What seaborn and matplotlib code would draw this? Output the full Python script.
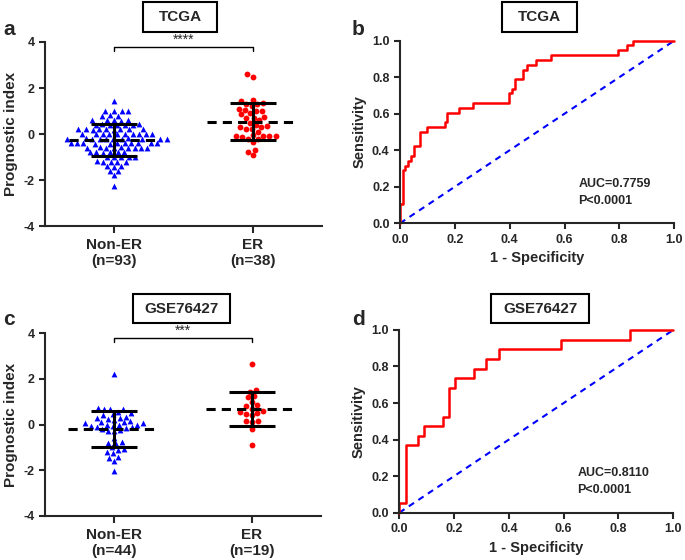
import numpy as np
import pandas as pd
import matplotlib
matplotlib.use("Agg")
import matplotlib.pyplot as plt
from matplotlib.patches import Rectangle
import seaborn as sns

# prognostic index values, TCGA cohort
tcga_non_er = [1.42,
               1.02, 1.0, 0.98, 1.0,
               0.82, 0.8, 0.78,
               0.62, 0.6, 0.6, 0.58, 0.6,
               0.42, 0.4, 0.4, 0.38, 0.4, 0.42, 0.4,
               0.22, 0.2, 0.2, 0.18, 0.2, 0.22, 0.2, 0.18, 0.2,
               0.02, 0.0, 0.0, -0.02, 0.0, 0.02, 0.0, -0.02, 0.0, 0.0,
               -0.18, -0.2, -0.2, -0.22, -0.2, -0.18, -0.2, -0.22, -0.2, -0.2, -0.2,
               -0.38, -0.4, -0.4, -0.42, -0.4, -0.38, -0.4, -0.42, -0.4, -0.4, -0.4,
               -0.58, -0.6, -0.6, -0.62, -0.6, -0.58, -0.6, -0.62, -0.6,
               -0.78, -0.8, -0.8, -0.82, -0.8, -0.8,
               -1.0, -1.0, -0.98, -1.02, -1.0,
               -1.2, -1.18, -1.22, -1.2, -1.2,
               -1.4, -1.38, -1.42,
               -1.6, -1.62,
               -1.8,
               -2.25]
tcga_er = [2.6, 2.5, 1.5, 1.45, 1.35, 1.3, 1.3, 1.2, 1.05, 1.1, 1.0, 1.0,
           0.9, 0.85, 0.7, 0.7, 0.6, 0.75, 0.5, 0.4, 0.35, 0.3, 0.3, 0.2,
           0.1, 0.2, -0.1, -0.1, -0.1, -0.1, -0.15, -0.2, -0.2, -0.35, -0.05,
           -0.7, -0.8, -0.93]

# prognostic index values, GSE76427 cohort
gse_non_er = [2.2, 0.72, 0.7, 0.7, 0.68, 0.55, 0.5, 0.45, 0.4, 0.35, 0.3, 0.3,
              0.25, 0.2, 0.15, 0.1, 0.05, 0.0, 0.0, -0.05, -0.1, -0.15, -0.2,
              -0.25, -0.3, -0.3, -0.1, -0.05, 0.0, 0.05, 0.1, -0.6, -0.75,
              -0.8, -0.85, -1.0, -1.05, -1.1, -1.2, -1.25, -1.4, -1.45, -1.6,
              -2.05]
gse_er = [2.65, 1.5, 1.45, 1.25, 1.2, 1.0, 0.85, 0.8, 0.7, 0.6, 0.55, 0.5,
          0.45, 0.4, 0.15, 0.15, 0.1, -0.2, -0.9]

groups = ["Non-ER", "ER"]

# ROC curves (1 - specificity, sensitivity at each step)
tcga_fpr = [0, 0, 0.01, 0.02, 0.03, 0.04, 0.051, 0.073, 0.097, 0.164, 0.173,
            0.215, 0.267, 0.398, 0.407, 0.419, 0.45, 0.462, 0.496, 0.55,
            0.796, 0.829, 0.85, 1.0]
tcga_tpr = [0, 0.105, 0.289, 0.316, 0.342, 0.368, 0.421, 0.5, 0.526, 0.553,
            0.605, 0.632, 0.658, 0.711, 0.737, 0.789, 0.842, 0.868, 0.895,
            0.921, 0.947, 0.974, 1.0, 1.0]
gse_fpr = [0, 0, 0.023, 0.068, 0.091, 0.159, 0.182, 0.205, 0.273, 0.318,
           0.364, 0.591, 0.841, 1.0]
gse_tpr = [0, 0.053, 0.368, 0.421, 0.474, 0.526, 0.684, 0.737, 0.789, 0.842,
           0.895, 0.947, 1.0, 1.0]

sns.set_style("ticks")
plt.rcParams['font.family'] = ['Liberation Sans', 'DejaVu Sans']
plt.rcParams['font.weight'] = 'bold'
plt.rcParams['axes.labelweight'] = 'bold'
plt.rcParams['axes.linewidth'] = 1.5
plt.rcParams['xtick.major.width'] = 1.5
plt.rcParams['ytick.major.width'] = 1.5
plt.rcParams['xtick.major.size'] = 4
plt.rcParams['ytick.major.size'] = 4

fig = plt.figure(figsize=(6.85, 5.6), dpi=100)


def title_box(x0, y0, x1, y1, text):
    # box in pixel coords of the 685x560 canvas
    W, H = 685, 560
    fig.patches.append(Rectangle((x0 / W, 1 - y1 / H), (x1 - x0) / W, (y1 - y0) / H,
                                 transform=fig.transFigure, fill=False,
                                 edgecolor='black', linewidth=1.5))
    fig.text((x0 + x1) / 2 / W, 1 - (y0 + y1) / 2 / H, text, ha='center',
             va='center', fontsize=11, fontweight='bold')


def scatter_panel(ax, non_er, er, stars):
    df1 = pd.DataFrame({"group": "Non-ER", "value": non_er})
    df2 = pd.DataFrame({"group": "ER", "value": er})
    sns.swarmplot(data=df1, x="group", y="value", order=groups, ax=ax,
                  color="blue", marker="^", size=4.2, linewidth=0, warn_thresh=1)
    sns.swarmplot(data=df2, x="group", y="value", order=groups, ax=ax,
                  color="red", marker="o", size=4.2, linewidth=0, warn_thresh=1)
    # mean (dashed) and SD bars
    for i, vals in enumerate([non_er, er]):
        m = np.mean(vals)
        sd = np.std(vals, ddof=1)
        ax.plot([i - 0.33, i + 0.33], [m, m], color='black', lw=2.2,
                dashes=(3, 2), zorder=5)
        ax.plot([i, i], [m - sd, m + sd], color='black', lw=2.2, zorder=5)
        for y in (m - sd, m + sd):
            ax.plot([i - 0.165, i + 0.165], [y, y], color='black', lw=2.2,
                    zorder=5, solid_capstyle='butt')
    ax.plot([0, 0, 1, 1], [3.6, 3.8, 3.8, 3.6], color='black', lw=1,
            clip_on=False)
    ax.text(0.5, 3.78, stars, ha='center', va='bottom', fontsize=10,
            fontweight='normal')
    ax.set_xlim(-0.5, 1.5)
    ax.set_ylim(-4, 4)
    ax.set_yticks([-4, -2, 0, 2, 4])
    ax.set_yticklabels(["-4", "-2", "0", "2", "4"])
    ax.tick_params(axis='y', labelsize=9)
    ax.tick_params(axis='x', labelsize=11, length=5)
    n = [len(non_er), len(er)]
    ax.set_xticks([0, 1])
    ax.set_xticklabels([f"{g}\n(n={k})" for g, k in zip(groups, n)])
    ax.set_xlabel("")
    ax.set_ylabel("Prognostic index", fontsize=11)
    sns.despine(ax=ax)


def roc_panel(ax, fpr, tpr, auc):
    sns.lineplot(x=[0, 1], y=[0, 1], ax=ax, color='blue', lw=1.5,
                 dashes=False, linestyle=(0, (3, 2.5)))
    sns.lineplot(x=fpr, y=tpr, ax=ax, color='red', lw=1.8, estimator=None,
                 sort=False, drawstyle='steps-post')
    ax.set_xlim(0, 1)
    ax.set_ylim(0, 1)
    ticks = np.arange(0, 1.01, 0.2)
    ax.set_xticks(ticks)
    ax.set_yticks(ticks)
    ax.set_xticklabels([f"{t:.1f}" for t in ticks])
    ax.set_yticklabels([f"{t:.1f}" for t in ticks])
    ax.tick_params(labelsize=9)
    ax.set_xlabel("1 - Specificity", fontsize=10.5)
    ax.set_ylabel("Sensitivity", fontsize=10.5)
    ax.text(0.65, 0.215, f"AUC={auc}", fontsize=9, fontweight='bold',
            va='center')
    ax.text(0.65, 0.122, "P<0.0001", fontsize=9, fontweight='bold',
            va='center')
    for ln in ax.lines:
        ln.set_clip_on(False)
    sns.despine(ax=ax)


ax_a = fig.add_axes([0.0657, 0.5964, 0.4044, 0.3286])
ax_b = fig.add_axes([0.5839, 0.6013, 0.4004, 0.3261])
ax_c = fig.add_axes([0.0657, 0.0786, 0.4025, 0.3263])
ax_d = fig.add_axes([0.5829, 0.0845, 0.4000, 0.3263])

scatter_panel(ax_a, tcga_non_er, tcga_er, "****")
scatter_panel(ax_c, gse_non_er, gse_er, "***")
roc_panel(ax_b, tcga_fpr, tcga_tpr, "0.7759")
roc_panel(ax_d, gse_fpr, gse_tpr, "0.8110")

title_box(142.7, 1.7, 217.3, 32.3, "TCGA")
title_box(501.7, 2.0, 576.7, 32.0, "TCGA")
title_box(132.7, 294.0, 230.0, 323.3, "GSE76427")
title_box(490.7, 294.0, 589.3, 323.3, "GSE76427")

for lab, x, y in [("a", 3, 35), ("b", 352, 35), ("c", 3, 325), ("d", 352, 325)]:
    fig.text(x / 685, 1 - y / 560, lab, fontsize=15, fontweight='bold',
             ha='left', va='baseline')

fig.savefig("out.png", dpi=100)
